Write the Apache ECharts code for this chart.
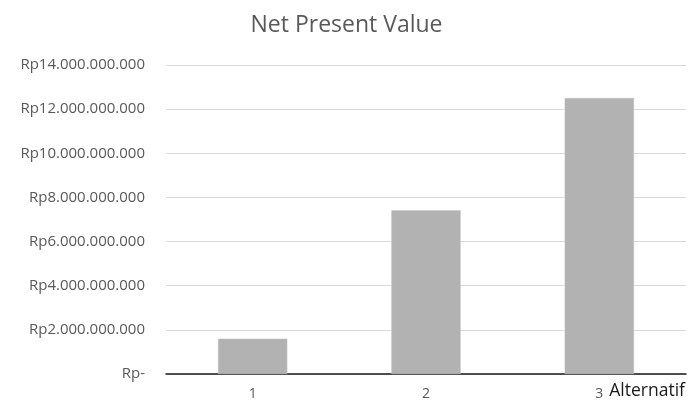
<!DOCTYPE html>
<html>
<head>
<meta charset="utf-8">
<script src="https://cdn.jsdelivr.net/npm/echarts@6/dist/echarts.min.js"></script>
<style>
	html, body { margin: 0; padding: 0; background: #fff; }
	#chart { width: 693px; height: 401px; }
</style>
</head>
<body>
<div id="chart"></div>
<script>
const categories = ['1', '2', '3']
const npvValues = [1600000000, 7420000000, 12510000000]
const yMax = 14000000000
const yStep = 2000000000

// Rp + titik sebagai pemisah ribuan, nol jadi "Rp-"
function rupiah(v) {
	if (v === 0) return 'Rp-'
	return 'Rp' + String(v).replace(/\B(?=(\d{3})+(?!\d))/g, '.')
}

const chart = echarts.init(document.getElementById('chart'))

const option = {
	animation: false,
	title: {
		text: 'Net Present Value',
		left: 'center',
		top: 9,
		textStyle: {
			fontFamily: 'Open Sans',
			fontSize: 23,
			fontWeight: 'normal',
			color: '#595959',
		},
	},
	grid: {
		left: 166,
		right: 7,
		top: 65,
		bottom: 25,
	},
	xAxis: {
		type: 'category',
		data: categories,
		name: 'Alternatif',
		nameLocation: 'end',
		nameGap: -78,
		nameTextStyle: {
			fontFamily: 'Open Sans',
			fontSize: 17.5,
			color: '#1a1a1a',
			align: 'left',
			verticalAlign: 'top',
			padding: [8, 0, 0, 0],
		},
		axisLine: { lineStyle: { color: '#1a1a1a', width: 1.5 } },
		axisTick: { show: false },
		axisLabel: {
			fontFamily: 'Open Sans',
			fontSize: 14,
			color: '#595959',
			margin: 13,
		},
	},
	yAxis: {
		type: 'value',
		min: 0,
		max: yMax,
		interval: yStep,
		axisLine: { show: false },
		axisTick: { show: false },
		splitLine: { lineStyle: { color: '#d9d9d9', width: 1 } },
		axisLabel: {
			fontFamily: 'Open Sans',
			fontSize: 15,
			color: '#595959',
			margin: 21,
			formatter: rupiah,
		},
	},
	series: [
		{
			type: 'bar',
			data: npvValues,
			barWidth: '40%',
			itemStyle: {
				color: '#b2b2b2',
				borderColor: '#c4c4c4',
				borderWidth: 0.5,
			},
		},
	],
}

chart.setOption(option)
</script>
</body>
</html>
